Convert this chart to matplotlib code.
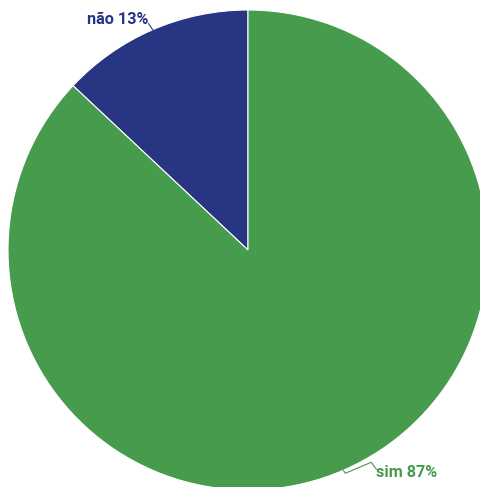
import matplotlib.pyplot as plt
import numpy as np

labels = ["não", "sim"]
shares = [13, 87]
colors = ["#283582", "#469b4c"]

W, H = 481, 487
CX, CY = 248, 250
R = 240

fig = plt.figure(figsize=(W / 100, H / 100), dpi=100)
ax = fig.add_axes([0, 0, 1, 1])

wedges, _ = ax.pie(
    shares,
    colors=colors,
    startangle=90,
    counterclock=True,
    radius=R,
    wedgeprops={"edgecolor": "white", "linewidth": 0.8},
)

# one data unit == one pixel, pie centre at (CX, CY); pie() resets limits
ax.set_xlim(-CX, W - CX)
ax.set_ylim(-(H - CY), CY)
ax.set_aspect("equal")
ax.axis("off")

font = {"family": "Roboto", "weight": "bold", "size": 11.7}


def edge_point(w, r=R):
    mid = np.deg2rad((w.theta1 + w.theta2) / 2)
    return r * np.cos(mid), r * np.sin(mid)


# não: short leader from the rim up to the label
x0, y0 = edge_point(wedges[0])
ax.plot([x0, x0 - 4], [y0, y0 + 6], color=colors[0], lw=0.8, clip_on=False)
ax.text(x0 - 4, y0 + 10.5, f"{labels[0]} {shares[0]}%", color=colors[0],
        ha="right", va="center", **font)

# sim: kinked leader from the rim out to the label
x1, y1 = edge_point(wedges[1])
ax.plot([x1, x1 + 2, x1 + 28, x1 + 33], [y1, y1 - 3, y1 + 8, y1 + 1],
        color=colors[1], lw=0.8, clip_on=False)
ax.text(x1 + 33, y1 - 2.5, f"{labels[1]} {shares[1]}%", color=colors[1],
        ha="left", va="center", **font)

fig.savefig("out.png", dpi=100)
